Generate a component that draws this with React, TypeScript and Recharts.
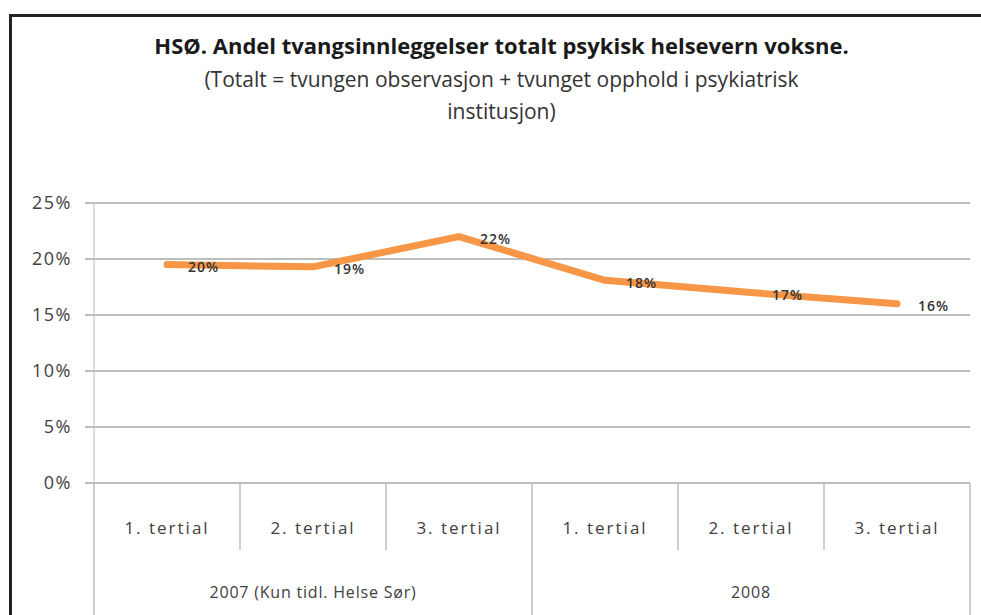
import React from "react";
import { LineChart, Line, XAxis, YAxis, CartesianGrid, LabelList } from "recharts";

const tertials = ["1. tertial", "2. tertial", "3. tertial", "1. tertial", "2. tertial", "3. tertial"];
const years = ["2007 (Kun tidl. Helse Sør)", "2008"];
const yearSizes = [3, 3];
const andel = [19.5, 19.3, 22.0, 18.1, 17.0, 16.0];
const yTicks = [0, 5, 10, 15, 20, 25];

const W = 981;
const H = 615;
const AXIS_W = 94;
const RIGHT = 11;
const TOP = 203;
const X_AXIS_H = 132;
const PLOT_W = W - AXIS_W - RIGHT;
const BAND = PLOT_W / tertials.length;

const FONT = "'Open Sans', 'Noto Sans', sans-serif";
const GRID = "#bdbdbd";
const TEXT = "#404040";

const data = tertials.map((t, i) => ({ tertial: t, idx: i, andel: andel[i] }));

// where each year group starts in the category list
const groupStarts = yearSizes.map((_, g) => yearSizes.slice(0, g).reduce((a, b) => a + b, 0));

function TableTick(props: any) {
  const { x, y, index, payload } = props;
  const i = index ?? payload.index;
  const g = groupStarts.findIndex((s, k) => i >= s && i < s + yearSizes[k]);
  const start = groupStarts[g];
  const isStart = i === start;
  const isMiddle = i === start + Math.floor((yearSizes[g] - 1) / 2);
  const groupCenter = x + (start + yearSizes[g] / 2 - 0.5 - i) * BAND;
  const isLast = i === tertials.length - 1;
  return (
    <g>
      <line
        x1={x - BAND / 2}
        x2={x - BAND / 2}
        y1={y}
        y2={isStart ? y + X_AXIS_H : y + 67}
        stroke={GRID}
        strokeWidth={1.5}
      />
      {isLast && (
        <line x1={x + BAND / 2} x2={x + BAND / 2} y1={y} y2={y + X_AXIS_H} stroke={GRID} strokeWidth={1.5} />
      )}
      <text
        x={x}
        y={y + 44}
        textAnchor="middle"
        dominantBaseline="central"
        fontSize={17}
        letterSpacing={2}
        fontFamily={FONT}
        fill={TEXT}
      >
        {payload.value}
      </text>
      {isMiddle && (
        <text
          x={groupCenter}
          y={y + 109}
          textAnchor="middle"
          dominantBaseline="central"
          fontSize={16}
          letterSpacing={0.8}
          fontFamily={FONT}
          fill={TEXT}
        >
          {years[g]}
        </text>
      )}
    </g>
  );
}

function PointLabel(props: any) {
  const { x, y, value } = props;
  return (
    <text
      x={x + 21}
      y={y + 2}
      dominantBaseline="central"
      fontSize={14}
      fontWeight={600}
      letterSpacing={1}
      fontFamily={FONT}
      fill="#333"
    >
      {Math.round(value)}%
    </text>
  );
}

export default function App() {
  return (
    <div
      style={{
        position: "absolute",
        left: 0,
        top: 0,
        width: W,
        height: H,
        background: "#fff",
        overflow: "hidden",
        fontFamily: FONT,
      }}
    >
      <div
        style={{
          position: "absolute",
          left: 9,
          top: 14,
          width: W,
          height: H,
          borderLeft: "3px solid #222",
          borderTop: "3px solid #222",
        }}
      />
      <div style={{ position: "absolute", left: 0, width: 1003, top: 30, textAlign: "center", color: "#1a1a1a" }}>
        <div style={{ fontSize: 22, fontWeight: 700, lineHeight: "30px" }}>
          HSØ. Andel tvangsinnleggelser totalt psykisk helsevern voksne.
        </div>
        <div style={{ fontSize: 21, lineHeight: "32px", marginTop: 3, color: "#333" }}>
          (Totalt = tvungen observasjon + tvunget opphold i psykiatrisk
          <br />
          institusjon)
        </div>
      </div>
      <div style={{ position: "absolute", left: 0, top: 0 }}>
        <LineChart width={W} height={H} data={data} margin={{ top: TOP, right: RIGHT, bottom: 0, left: 0 }}>
          <CartesianGrid vertical={false} stroke={GRID} strokeWidth={2} />
          <XAxis
            dataKey="tertial"
            height={X_AXIS_H}
            interval={0}
            padding={{ left: BAND / 2, right: BAND / 2 }}
            tickLine={false}
            tickSize={0}
            tickMargin={0}
            axisLine={{ stroke: GRID, strokeWidth: 2 }}
            tick={<TableTick />}
          />
          <YAxis
            width={AXIS_W}
            domain={[0, 25]}
            ticks={yTicks}
            interval={0}
            tickSize={9}
            tickMargin={13}
            tickLine={{ stroke: GRID, strokeWidth: 2 }}
            axisLine={{ stroke: "#d0d0d0", strokeWidth: 1.5 }}
            tickFormatter={(v) => `${v}%`}
            tick={{ fontSize: 18, fill: TEXT, fontFamily: FONT, letterSpacing: 1.5 }}
          />
          <Line
            type="linear"
            dataKey="andel"
            stroke="#F79646"
            strokeWidth={7}
            strokeLinecap="round"
            strokeLinejoin="round"
            dot={false}
            isAnimationActive={false}
          >
            <LabelList dataKey="andel" content={<PointLabel />} />
          </Line>
        </LineChart>
      </div>
    </div>
  );
}
